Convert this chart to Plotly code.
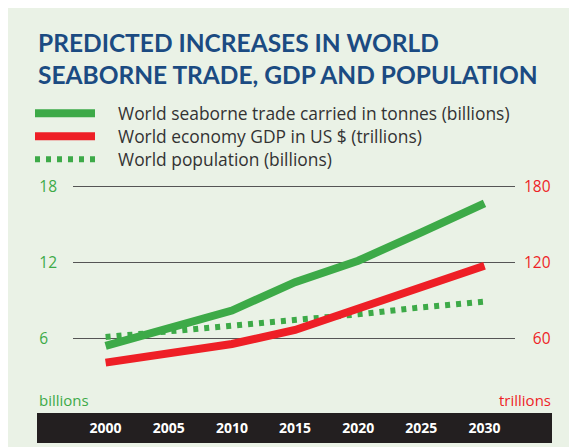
import plotly.graph_objects as go

years = [2000, 2005, 2010, 2015, 2020, 2025, 2030]
trade = [5.4, 6.8, 8.2, 10.45, 12.15, 14.4, 16.7]        # billions of tonnes
gdp = [40.7, 48.0, 55.5, 66.6, 83.8, 100.4, 117.5]        # trillions US$
population = [6.1, 6.55, 6.95, 7.5, 7.9, 8.45, 8.9]       # billions

left_ticks = [6, 12, 18]
right_ticks = [60, 120, 180]
x_ticks = [2000, 2005, 2010, 2015, 2020, 2025, 2030]

GREEN = "#3DAA48"
RED = "#EE1F26"
NAVY = "#1B4B82"
PANEL = "#EAF2E6"
FONT = "Open Sans"

# page body has an 8px margin, so the figure is drawn 8px right / 8px down
OFF = 8
W, H = 577 - OFF, 447 - OFF
# plot area in screen pixels
L, R, T, B = 73, 515, 170, 413
pw, ph = R - L, B - T

def px(x):
    return (x - L) / pw

def py(y):
    return (B - y) / ph

PAD = "\u00a0\u00a0\u00a0\u00a0"

fig = go.Figure()
fig.add_trace(go.Scatter(x=years, y=gdp, yaxis="y2", mode="lines",
                         name=PAD + "World economy GDP in US $ (trillions)",
                         line=dict(color=RED, width=8), legend="legend2"))
fig.add_trace(go.Scatter(x=years, y=population, mode="lines",
                         name=PAD + "World population (billions)",
                         line=dict(color=GREEN, width=6, dash="5px,6px"), legend="legend3"))
fig.add_trace(go.Scatter(x=years, y=trade, mode="lines",
                         name=PAD + "World seaborne trade carried in tonnes (billions)",
                         line=dict(color=GREEN, width=8), legend="legend"))

ppu = 75.7 / 6.0  # pixels per left-axis unit
y0 = (414 - B) / ppu
y1 = (414 - T) / ppu
ppyear = (484.5 - 105.6) / 30.0
x0 = 2000 - (105.6 - L) / ppyear
x1 = 2030 + (R - 484.5) / ppyear

def leg(ycenter):
    return dict(x=px(30), y=py(ycenter), xanchor="left", yanchor="middle",
                bgcolor="rgba(0,0,0,0)", itemwidth=60,
                font=dict(size=17.4, color="#333333", family=FONT),
                itemclick=False, itemdoubleclick=False)

fig.update_layout(
    width=W, height=H,
    margin=dict(l=L - OFF, r=W - (R - OFF), t=T - OFF, b=H - (B - OFF), autoexpand=False),
    paper_bgcolor="white", plot_bgcolor="rgba(0,0,0,0)",
    font=dict(family=FONT, color="#333333"),
    showlegend=True,
    legend=leg(113.5),
    legend2=leg(136.5),
    legend3=leg(159.5),
    xaxis=dict(range=[x0, x1], tickvals=x_ticks, showgrid=False, zeroline=False,
               showline=False, ticks="", fixedrange=True,
               tickfont=dict(color="white", size=14, family=FONT, weight="bold"),
               ticklabelstandoff=5),
    yaxis=dict(range=[y0, y1], tickvals=left_ticks,
               ticktext=[str(v) + ("\u2007" if v < 10 else "") for v in left_ticks],
               showgrid=True, gridcolor="#555555", gridwidth=1, zeroline=False,
               showline=False, ticks="", tickfont=dict(color=GREEN, size=15.5, family=FONT),
               ticklabelstandoff=15),
    yaxis2=dict(range=[y0 * 10, y1 * 10], tickvals=right_ticks,
                ticktext=[("\u2007" if v < 100 else "") + str(v) for v in right_ticks],
                overlaying="y", side="right", showgrid=False, zeroline=False,
                showline=False, ticks="", tickfont=dict(color=RED, size=15.5, family=FONT),
                ticklabelstandoff=8),
    shapes=[
        dict(type="rect", xref="paper", yref="paper", layer="below",
             x0=px(8), x1=px(578), y0=py(7), y1=py(448),
             fillcolor=PANEL, line=dict(width=0)),
        dict(type="rect", xref="paper", yref="paper", layer="below",
             x0=px(37), x1=px(552), y0=py(413), y1=py(443),
             fillcolor="#231F20", line=dict(width=0)),
    ],
    annotations=[
        dict(text="<b>PREDICTED INCREASES IN WORLD</b>",
             xref="paper", yref="paper", x=px(36), y=py(42), xanchor="left", yanchor="middle",
             align="left", showarrow=False,
             font=dict(family="Lato", size=24.5, color=NAVY)),
        dict(text="<b>SEABORNE TRADE, GDP AND POPULATION</b>",
             xref="paper", yref="paper", x=px(36), y=py(74), xanchor="left", yanchor="middle",
             align="left", showarrow=False,
             font=dict(family="Lato", size=24.5, color=NAVY)),
        dict(text="billions", xref="paper", yref="paper", x=px(37), y=py(400),
             xanchor="left", yanchor="middle", showarrow=False,
             font=dict(color=GREEN, size=15, family=FONT)),
        dict(text="trillions", xref="paper", yref="paper", x=px(553), y=py(400),
             xanchor="right", yanchor="middle", showarrow=False,
             font=dict(color=RED, size=15, family=FONT)),
    ],
)

fig.write_html("out.html")
